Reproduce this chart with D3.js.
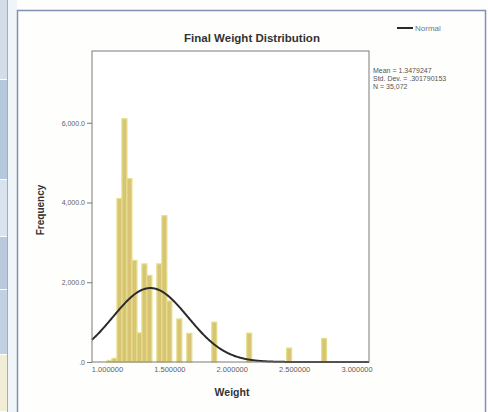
<!DOCTYPE html>
<html>
<head>
<meta charset="utf-8">
<script src="https://cdn.jsdelivr.net/npm/d3@7/dist/d3.min.js"></script>
<style>
  html, body { margin: 0; padding: 0; background: #fefefc; }
  svg { display: block; }
  text { font-family: "Liberation Sans", Arial, sans-serif; }
</style>
</head>
<body>
<svg id="chart" width="488" height="412"></svg>
<script>
// Histogram bins (lower edge of each 0.04-wide bin) and their frequencies
const binStarts = [1.00, 1.04, 1.08, 1.12, 1.16, 1.20, 1.24, 1.28, 1.32, 1.40, 1.44, 1.48, 1.56, 1.64, 1.84, 2.12, 2.44, 2.72];
const binCounts = [40, 90, 4100, 6100, 4600, 2550, 730, 2460, 2170, 2460, 3670, 1530, 1080, 720, 1000, 725, 350, 590];
const binWidth = 0.04;

// Summary statistics shown beside the plot
const statMean = 1.3479247;
const statStd = 0.301790153;
const statN = 35072;

// Axis ticks
const xTicks = [1.0, 1.5, 2.0, 2.5, 3.0];
const yTicks = [0, 2000, 4000, 6000];

const svg = d3.select("#chart");

// Window chrome: side strip and the outer frame of the output viewer
const strip = [
  { y0: 0, y1: 80, c: "#d3dde8" },
  { y0: 80, y1: 180, c: "#b6c8dc" },
  { y0: 180, y1: 237, c: "#d9e3ee" },
  { y0: 237, y1: 290, c: "#b9cadd" },
  { y0: 290, y1: 355, c: "#c2d1e2" },
  { y0: 355, y1: 412, c: "#f1edd6" }
];
svg.append("rect").attr("x", 0).attr("y", 0).attr("width", 488).attr("height", 412).attr("fill", "#fefefc");
svg.append("rect").attr("x", 7).attr("y", 0).attr("width", 10).attr("height", 412).attr("fill", "#f0f5f9");
svg.selectAll("rect.strip").data(strip).join("rect")
  .attr("class", "strip")
  .attr("x", 0).attr("width", 7)
  .attr("y", d => d.y0).attr("height", d => d.y1 - d.y0 - 1)
  .attr("fill", d => d.c);
svg.append("line").attr("x1", 7.5).attr("x2", 7.5).attr("y1", 0).attr("y2", 412)
  .attr("stroke", "#a3adb8").attr("stroke-width", 1);
svg.append("path")
  .attr("d", "M17.5,412 V10.5 H485.5 V412")
  .attr("fill", "none").attr("stroke", "#8291b3").attr("stroke-width", 1.5);

// Plot area
const plot = { left: 92, right: 369, top: 51, bottom: 362 };
const x = d3.scaleLinear().domain([0.88, 3.10]).range([plot.left, plot.right]);
const y = d3.scaleLinear().domain([0, 7800]).range([plot.bottom, plot.top]);

svg.append("rect")
  .attr("x", plot.left).attr("y", plot.top)
  .attr("width", plot.right - plot.left).attr("height", plot.bottom - plot.top)
  .attr("fill", "#ffffff");

// Bars
const bins = binStarts.map((s, i) => ({ x0: s, x1: s + binWidth, n: binCounts[i] }));
svg.append("g").selectAll("rect").data(bins).join("rect")
  .attr("x", d => x(d.x0))
  .attr("width", d => x(d.x1) - x(d.x0))
  .attr("y", d => y(d.n))
  .attr("height", d => y(0) - y(d.n))
  .attr("fill", "#d8c474")
  .attr("stroke", "#e4e08a")
  .attr("stroke-width", 1.2);

// Normal curve scaled to the histogram: N * binWidth * pdf
const normal = v => statN * binWidth * Math.exp(-0.5 * ((v - statMean) / statStd) ** 2) / (statStd * Math.sqrt(2 * Math.PI));
const curvePts = d3.range(0, 401).map(i => {
  const v = x.domain()[0] + (x.domain()[1] - x.domain()[0]) * i / 400;
  return [v, normal(v)];
});
svg.append("path")
  .datum(curvePts)
  .attr("fill", "none")
  .attr("stroke", "#2a2a2a")
  .attr("stroke-width", 2)
  .attr("d", d3.line().x(d => x(d[0])).y(d => y(d[1])));

// Plot frame
svg.append("rect")
  .attr("x", plot.left).attr("y", plot.top)
  .attr("width", plot.right - plot.left).attr("height", plot.bottom - plot.top)
  .attr("fill", "none").attr("stroke", "#7a7a7a").attr("stroke-width", 1);

// Y axis
const yAxis = svg.append("g")
  .attr("transform", `translate(${plot.left},0)`)
  .call(d3.axisLeft(y).tickValues(yTicks).tickSize(5).tickPadding(2)
    .tickFormat(d => d === 0 ? ".0" : d3.format(",.1f")(d)));
yAxis.select(".domain").remove();
yAxis.selectAll("line").attr("stroke", "#777");
yAxis.selectAll("text").attr("fill", "#5e5e5e").style("font-size", "7px");

// X axis
const xAxis = svg.append("g")
  .attr("transform", `translate(0,${plot.bottom})`)
  .call(d3.axisBottom(x).tickValues(xTicks).tickSize(0).tickPadding(5)
    .tickFormat(d3.format(".6f")));
xAxis.select(".domain").remove();
xAxis.selectAll("text").attr("fill", "#5e5e5e").style("font-size", "7.5px");

// Titles
svg.append("text").attr("x", 252).attr("y", 42).attr("text-anchor", "middle")
  .attr("fill", "#333").style("font-size", "11.5px").style("font-weight", "bold")
  .text("Final Weight Distribution");
svg.append("text").attr("x", 232).attr("y", 396).attr("text-anchor", "middle")
  .attr("fill", "#333").style("font-size", "10.5px").style("font-weight", "bold")
  .text("Weight");
svg.append("text").attr("transform", "translate(44,210) rotate(-90)").attr("text-anchor", "middle")
  .attr("fill", "#333").style("font-size", "10px").style("font-weight", "bold")
  .text("Frequency");

// Legend
svg.append("line").attr("x1", 397).attr("x2", 413).attr("y1", 28).attr("y2", 28)
  .attr("stroke", "#2a2a2a").attr("stroke-width", 2);
svg.append("text").attr("x", 415).attr("y", 31).attr("fill", "#777")
  .style("font-size", "8px").text("Normal");

// Statistics block
const statLines = [
  "Mean = " + statMean.toFixed(7),
  "Std. Dev. = " + statStd.toFixed(9).replace(/^0/, ""),
  "N = " + d3.format(",")(statN)
];
svg.append("g").selectAll("text").data(statLines).join("text")
  .attr("x", 373)
  .attr("y", (d, i) => 72.5 + i * 8.3)
  .attr("fill", "#555")
  .style("font-size", "7px")
  .text(d => d);
</script>
</body>
</html>
